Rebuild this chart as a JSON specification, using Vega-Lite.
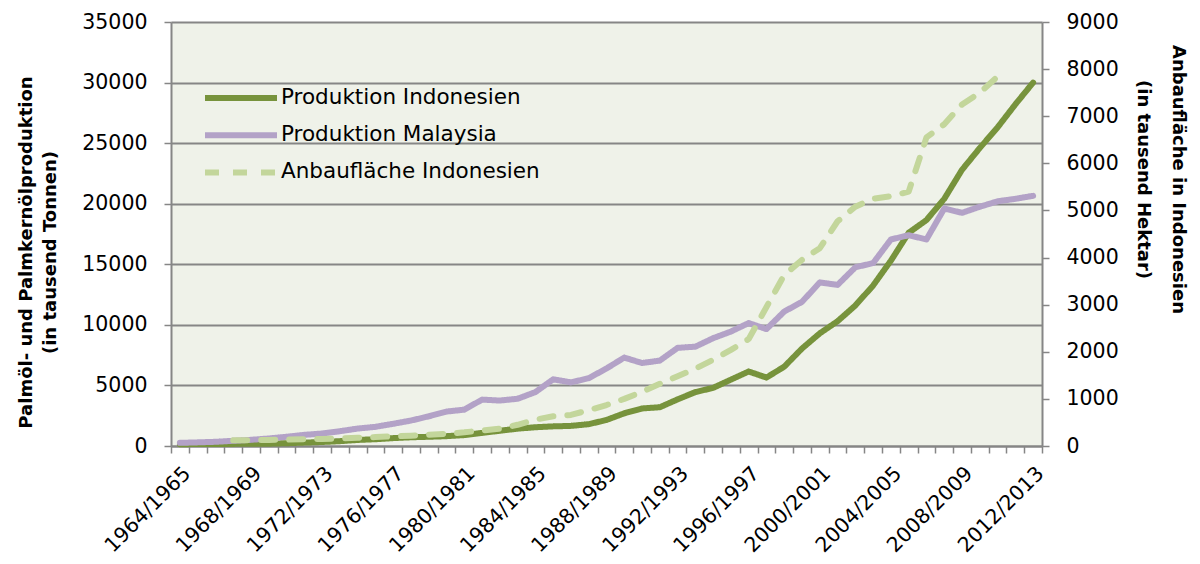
{
  "$schema": "https://vega.github.io/schema/vega-lite/v6.json",
  "width": 871,
  "height": 424,
  "autosize": {"type": "none"},
  "padding": {"left": 171, "top": 22, "right": 158, "bottom": 118},
  "background": "white",
  "config": {
    "font": "DejaVu Sans",
    "view": {"fill": "#EFF2E9", "stroke": null},
    "axis": {"labelColor": "#000000", "titleColor": "#000000", "labelFont": "DejaVu Sans", "titleFont": "DejaVu Sans"},
    "legend": {"labelColor": "#000000", "labelFont": "DejaVu Sans"}
  },
  "data": {"values": [
      {"Jahr": "1964/1965", "Reihe": "Produktion Indonesien", "Wert": 150},
      {"Jahr": "1965/1966", "Reihe": "Produktion Indonesien", "Wert": 160},
      {"Jahr": "1966/1967", "Reihe": "Produktion Indonesien", "Wert": 170},
      {"Jahr": "1967/1968", "Reihe": "Produktion Indonesien", "Wert": 175},
      {"Jahr": "1968/1969", "Reihe": "Produktion Indonesien", "Wert": 185},
      {"Jahr": "1969/1970", "Reihe": "Produktion Indonesien", "Wert": 190},
      {"Jahr": "1970/1971", "Reihe": "Produktion Indonesien", "Wert": 230},
      {"Jahr": "1971/1972", "Reihe": "Produktion Indonesien", "Wert": 280},
      {"Jahr": "1972/1973", "Reihe": "Produktion Indonesien", "Wert": 330},
      {"Jahr": "1973/1974", "Reihe": "Produktion Indonesien", "Wert": 400},
      {"Jahr": "1974/1975", "Reihe": "Produktion Indonesien", "Wert": 500},
      {"Jahr": "1975/1976", "Reihe": "Produktion Indonesien", "Wert": 560},
      {"Jahr": "1976/1977", "Reihe": "Produktion Indonesien", "Wert": 650},
      {"Jahr": "1977/1978", "Reihe": "Produktion Indonesien", "Wert": 720},
      {"Jahr": "1978/1979", "Reihe": "Produktion Indonesien", "Wert": 760},
      {"Jahr": "1979/1980", "Reihe": "Produktion Indonesien", "Wert": 810},
      {"Jahr": "1980/1981", "Reihe": "Produktion Indonesien", "Wert": 900},
      {"Jahr": "1981/1982", "Reihe": "Produktion Indonesien", "Wert": 1080},
      {"Jahr": "1982/1983", "Reihe": "Produktion Indonesien", "Wert": 1260},
      {"Jahr": "1983/1984", "Reihe": "Produktion Indonesien", "Wert": 1430},
      {"Jahr": "1984/1985", "Reihe": "Produktion Indonesien", "Wert": 1550},
      {"Jahr": "1985/1986", "Reihe": "Produktion Indonesien", "Wert": 1620},
      {"Jahr": "1986/1987", "Reihe": "Produktion Indonesien", "Wert": 1660},
      {"Jahr": "1987/1988", "Reihe": "Produktion Indonesien", "Wert": 1800},
      {"Jahr": "1988/1989", "Reihe": "Produktion Indonesien", "Wert": 2150},
      {"Jahr": "1989/1990", "Reihe": "Produktion Indonesien", "Wert": 2700},
      {"Jahr": "1990/1991", "Reihe": "Produktion Indonesien", "Wert": 3100},
      {"Jahr": "1991/1992", "Reihe": "Produktion Indonesien", "Wert": 3200},
      {"Jahr": "1992/1993", "Reihe": "Produktion Indonesien", "Wert": 3850},
      {"Jahr": "1993/1994", "Reihe": "Produktion Indonesien", "Wert": 4450},
      {"Jahr": "1994/1995", "Reihe": "Produktion Indonesien", "Wert": 4800},
      {"Jahr": "1995/1996", "Reihe": "Produktion Indonesien", "Wert": 5480},
      {"Jahr": "1996/1997", "Reihe": "Produktion Indonesien", "Wert": 6150},
      {"Jahr": "1997/1998", "Reihe": "Produktion Indonesien", "Wert": 5650},
      {"Jahr": "1998/1999", "Reihe": "Produktion Indonesien", "Wert": 6550},
      {"Jahr": "1999/2000", "Reihe": "Produktion Indonesien", "Wert": 8050},
      {"Jahr": "2000/2001", "Reihe": "Produktion Indonesien", "Wert": 9300},
      {"Jahr": "2001/2002", "Reihe": "Produktion Indonesien", "Wert": 10300},
      {"Jahr": "2002/2003", "Reihe": "Produktion Indonesien", "Wert": 11600},
      {"Jahr": "2003/2004", "Reihe": "Produktion Indonesien", "Wert": 13250},
      {"Jahr": "2004/2005", "Reihe": "Produktion Indonesien", "Wert": 15300},
      {"Jahr": "2005/2006", "Reihe": "Produktion Indonesien", "Wert": 17600},
      {"Jahr": "2006/2007", "Reihe": "Produktion Indonesien", "Wert": 18650},
      {"Jahr": "2007/2008", "Reihe": "Produktion Indonesien", "Wert": 20400},
      {"Jahr": "2008/2009", "Reihe": "Produktion Indonesien", "Wert": 22800},
      {"Jahr": "2009/2010", "Reihe": "Produktion Indonesien", "Wert": 24600},
      {"Jahr": "2010/2011", "Reihe": "Produktion Indonesien", "Wert": 26300},
      {"Jahr": "2011/2012", "Reihe": "Produktion Indonesien", "Wert": 28200},
      {"Jahr": "2012/2013", "Reihe": "Produktion Indonesien", "Wert": 30000},
      {"Jahr": "1964/1965", "Reihe": "Produktion Malaysia", "Wert": 260},
      {"Jahr": "1965/1966", "Reihe": "Produktion Malaysia", "Wert": 300},
      {"Jahr": "1966/1967", "Reihe": "Produktion Malaysia", "Wert": 345},
      {"Jahr": "1967/1968", "Reihe": "Produktion Malaysia", "Wert": 430},
      {"Jahr": "1968/1969", "Reihe": "Produktion Malaysia", "Wert": 510},
      {"Jahr": "1969/1970", "Reihe": "Produktion Malaysia", "Wert": 620},
      {"Jahr": "1970/1971", "Reihe": "Produktion Malaysia", "Wert": 760},
      {"Jahr": "1971/1972", "Reihe": "Produktion Malaysia", "Wert": 920},
      {"Jahr": "1972/1973", "Reihe": "Produktion Malaysia", "Wert": 1030},
      {"Jahr": "1973/1974", "Reihe": "Produktion Malaysia", "Wert": 1220},
      {"Jahr": "1974/1975", "Reihe": "Produktion Malaysia", "Wert": 1440},
      {"Jahr": "1975/1976", "Reihe": "Produktion Malaysia", "Wert": 1580},
      {"Jahr": "1976/1977", "Reihe": "Produktion Malaysia", "Wert": 1830},
      {"Jahr": "1977/1978", "Reihe": "Produktion Malaysia", "Wert": 2100},
      {"Jahr": "1978/1979", "Reihe": "Produktion Malaysia", "Wert": 2450},
      {"Jahr": "1979/1980", "Reihe": "Produktion Malaysia", "Wert": 2840},
      {"Jahr": "1980/1981", "Reihe": "Produktion Malaysia", "Wert": 3000},
      {"Jahr": "1981/1982", "Reihe": "Produktion Malaysia", "Wert": 3830},
      {"Jahr": "1982/1983", "Reihe": "Produktion Malaysia", "Wert": 3750},
      {"Jahr": "1983/1984", "Reihe": "Produktion Malaysia", "Wert": 3900},
      {"Jahr": "1984/1985", "Reihe": "Produktion Malaysia", "Wert": 4450},
      {"Jahr": "1985/1986", "Reihe": "Produktion Malaysia", "Wert": 5500},
      {"Jahr": "1986/1987", "Reihe": "Produktion Malaysia", "Wert": 5250},
      {"Jahr": "1987/1988", "Reihe": "Produktion Malaysia", "Wert": 5600},
      {"Jahr": "1988/1989", "Reihe": "Produktion Malaysia", "Wert": 6400},
      {"Jahr": "1989/1990", "Reihe": "Produktion Malaysia", "Wert": 7300},
      {"Jahr": "1990/1991", "Reihe": "Produktion Malaysia", "Wert": 6850},
      {"Jahr": "1991/1992", "Reihe": "Produktion Malaysia", "Wert": 7050},
      {"Jahr": "1992/1993", "Reihe": "Produktion Malaysia", "Wert": 8100},
      {"Jahr": "1993/1994", "Reihe": "Produktion Malaysia", "Wert": 8200},
      {"Jahr": "1994/1995", "Reihe": "Produktion Malaysia", "Wert": 8900},
      {"Jahr": "1995/1996", "Reihe": "Produktion Malaysia", "Wert": 9450},
      {"Jahr": "1996/1997", "Reihe": "Produktion Malaysia", "Wert": 10150},
      {"Jahr": "1997/1998", "Reihe": "Produktion Malaysia", "Wert": 9650},
      {"Jahr": "1998/1999", "Reihe": "Produktion Malaysia", "Wert": 11100},
      {"Jahr": "1999/2000", "Reihe": "Produktion Malaysia", "Wert": 11900},
      {"Jahr": "2000/2001", "Reihe": "Produktion Malaysia", "Wert": 13500},
      {"Jahr": "2001/2002", "Reihe": "Produktion Malaysia", "Wert": 13300},
      {"Jahr": "2002/2003", "Reihe": "Produktion Malaysia", "Wert": 14750},
      {"Jahr": "2003/2004", "Reihe": "Produktion Malaysia", "Wert": 15100},
      {"Jahr": "2004/2005", "Reihe": "Produktion Malaysia", "Wert": 17050},
      {"Jahr": "2005/2006", "Reihe": "Produktion Malaysia", "Wert": 17400},
      {"Jahr": "2006/2007", "Reihe": "Produktion Malaysia", "Wert": 17050},
      {"Jahr": "2007/2008", "Reihe": "Produktion Malaysia", "Wert": 19600},
      {"Jahr": "2008/2009", "Reihe": "Produktion Malaysia", "Wert": 19250},
      {"Jahr": "2009/2010", "Reihe": "Produktion Malaysia", "Wert": 19750},
      {"Jahr": "2010/2011", "Reihe": "Produktion Malaysia", "Wert": 20200},
      {"Jahr": "2011/2012", "Reihe": "Produktion Malaysia", "Wert": 20400},
      {"Jahr": "2012/2013", "Reihe": "Produktion Malaysia", "Wert": 20650},
      {"Jahr": "1967/1968", "Reihe": "Anbaufläche Indonesien", "Wert": 120},
      {"Jahr": "1968/1969", "Reihe": "Anbaufläche Indonesien", "Wert": 125},
      {"Jahr": "1969/1970", "Reihe": "Anbaufläche Indonesien", "Wert": 130},
      {"Jahr": "1970/1971", "Reihe": "Anbaufläche Indonesien", "Wert": 135},
      {"Jahr": "1971/1972", "Reihe": "Anbaufläche Indonesien", "Wert": 145},
      {"Jahr": "1972/1973", "Reihe": "Anbaufläche Indonesien", "Wert": 150},
      {"Jahr": "1973/1974", "Reihe": "Anbaufläche Indonesien", "Wert": 160},
      {"Jahr": "1974/1975", "Reihe": "Anbaufläche Indonesien", "Wert": 175},
      {"Jahr": "1975/1976", "Reihe": "Anbaufläche Indonesien", "Wert": 190},
      {"Jahr": "1976/1977", "Reihe": "Anbaufläche Indonesien", "Wert": 205},
      {"Jahr": "1977/1978", "Reihe": "Anbaufläche Indonesien", "Wert": 220},
      {"Jahr": "1978/1979", "Reihe": "Anbaufläche Indonesien", "Wert": 240},
      {"Jahr": "1979/1980", "Reihe": "Anbaufläche Indonesien", "Wert": 260},
      {"Jahr": "1980/1981", "Reihe": "Anbaufläche Indonesien", "Wert": 290},
      {"Jahr": "1981/1982", "Reihe": "Anbaufläche Indonesien", "Wert": 330},
      {"Jahr": "1982/1983", "Reihe": "Anbaufläche Indonesien", "Wert": 370},
      {"Jahr": "1983/1984", "Reihe": "Anbaufläche Indonesien", "Wert": 450},
      {"Jahr": "1984/1985", "Reihe": "Anbaufläche Indonesien", "Wert": 560},
      {"Jahr": "1985/1986", "Reihe": "Anbaufläche Indonesien", "Wert": 630},
      {"Jahr": "1986/1987", "Reihe": "Anbaufläche Indonesien", "Wert": 660},
      {"Jahr": "1987/1988", "Reihe": "Anbaufläche Indonesien", "Wert": 760},
      {"Jahr": "1988/1989", "Reihe": "Anbaufläche Indonesien", "Wert": 870},
      {"Jahr": "1989/1990", "Reihe": "Anbaufläche Indonesien", "Wert": 1000},
      {"Jahr": "1990/1991", "Reihe": "Anbaufläche Indonesien", "Wert": 1150},
      {"Jahr": "1991/1992", "Reihe": "Anbaufläche Indonesien", "Wert": 1320},
      {"Jahr": "1992/1993", "Reihe": "Anbaufläche Indonesien", "Wert": 1480},
      {"Jahr": "1993/1994", "Reihe": "Anbaufläche Indonesien", "Wert": 1640},
      {"Jahr": "1994/1995", "Reihe": "Anbaufläche Indonesien", "Wert": 1830},
      {"Jahr": "1995/1996", "Reihe": "Anbaufläche Indonesien", "Wert": 2040},
      {"Jahr": "1996/1997", "Reihe": "Anbaufläche Indonesien", "Wert": 2270},
      {"Jahr": "1997/1998", "Reihe": "Anbaufläche Indonesien", "Wert": 2950},
      {"Jahr": "1998/1999", "Reihe": "Anbaufläche Indonesien", "Wert": 3630},
      {"Jahr": "1999/2000", "Reihe": "Anbaufläche Indonesien", "Wert": 3950},
      {"Jahr": "2000/2001", "Reihe": "Anbaufläche Indonesien", "Wert": 4200},
      {"Jahr": "2001/2002", "Reihe": "Anbaufläche Indonesien", "Wert": 4770},
      {"Jahr": "2002/2003", "Reihe": "Anbaufläche Indonesien", "Wert": 5080},
      {"Jahr": "2003/2004", "Reihe": "Anbaufläche Indonesien", "Wert": 5250},
      {"Jahr": "2004/2005", "Reihe": "Anbaufläche Indonesien", "Wert": 5300},
      {"Jahr": "2005/2006", "Reihe": "Anbaufläche Indonesien", "Wert": 5400},
      {"Jahr": "2006/2007", "Reihe": "Anbaufläche Indonesien", "Wert": 6550},
      {"Jahr": "2007/2008", "Reihe": "Anbaufläche Indonesien", "Wert": 6830},
      {"Jahr": "2008/2009", "Reihe": "Anbaufläche Indonesien", "Wert": 7250},
      {"Jahr": "2009/2010", "Reihe": "Anbaufläche Indonesien", "Wert": 7500},
      {"Jahr": "2010/2011", "Reihe": "Anbaufläche Indonesien", "Wert": 7840}
  ]},
  "encoding": {
    "x": {
      "field": "Jahr",
      "type": "ordinal",
      "scale": {"type": "band", "paddingInner": 0, "paddingOuter": 0},
      "axis": {
        "title": null,
        "labelAngle": -45,
        "labelExpr": "indexof(['1964/1965','1968/1969','1972/1973','1976/1977','1980/1981','1984/1985','1988/1989','1992/1993','1996/1997','2000/2001','2004/2005','2008/2009','2012/2013'], datum.label) >= 0 ? datum.label : ''",
        "labelOverlap": false,
        "labelFontSize": 20.5,
        "labelPadding": 10,
        "tickBand": "extent",
        "tickSize": 7,
        "tickColor": "#868686",
        "tickWidth": 1.5,
        "domainColor": "#868686",
        "domainWidth": 2,
        "grid": false
      }
    },
    "color": {
      "field": "Reihe",
      "type": "nominal",
      "scale": {"domain": ["Produktion Indonesien", "Produktion Malaysia", "Anbaufläche Indonesien"], "range": ["#77933C", "#B3A2C7", "#C3D69B"]},
      "legend": {"title": null, "orient": "none", "legendX": 31, "legendY": 64, "symbolType": "stroke", "symbolSize": 5184, "symbolStrokeWidth": 6, "clipHeight": 24, "rowPadding": 13.2, "labelOffset": 1, "labelFontSize": 21.5, "labelLimit": 400}
    },
    "strokeDash": {
      "field": "Reihe",
      "type": "nominal",
      "scale": {"domain": ["Produktion Indonesien", "Produktion Malaysia", "Anbaufläche Indonesien"], "range": [[1, 0], [1, 0], [14, 14]]},
      "legend": {"title": null, "orient": "none", "legendX": 31, "legendY": 64, "symbolType": "stroke", "symbolSize": 5184, "symbolStrokeWidth": 6, "clipHeight": 24, "rowPadding": 13.2, "labelOffset": 1, "labelFontSize": 21.5, "labelLimit": 400}
    }
  },
  "layer": [
    {
      "transform": [{"filter": "datum.Reihe != 'Anbaufläche Indonesien'"}],
      "mark": {"type": "line", "strokeWidth": 6, "strokeCap": "round", "strokeJoin": "round"},
      "encoding": {
        "y": {
          "field": "Wert",
          "type": "quantitative",
          "scale": {"domain": [0, 35000], "nice": false},
          "axis": {
            "orient": "left",
            "values": [0, 5000, 10000, 15000, 20000, 25000, 30000, 35000],
            "format": "d",
            "grid": true,
            "gridColor": "#868686",
            "gridWidth": 2,
            "domainColor": "#868686",
            "domainWidth": 2,
            "tickColor": "#868686",
            "tickWidth": 1.5,
            "tickSize": 7,
            "labelFontSize": 20.5,
            "labelPadding": 17,
            "title": ["Palmöl- und Palmkernölproduktion", "(in tausend Tonnen)"],
            "titleFontSize": 18,
            "titleFontWeight": "bold",
            "titleLineHeight": 24,
            "titlePadding": 22,
            "titleY": 230
          }
        }
      }
    },
    {
      "transform": [{"filter": "datum.Reihe == 'Anbaufläche Indonesien'"}],
      "mark": {"type": "line", "strokeWidth": 6, "strokeCap": "round", "strokeJoin": "round"},
      "encoding": {
        "y": {
          "field": "Wert",
          "type": "quantitative",
          "scale": {"domain": [0, 9000], "nice": false},
          "axis": {
            "orient": "right",
            "values": [0, 1000, 2000, 3000, 4000, 5000, 6000, 7000, 8000, 9000],
            "format": "d",
            "grid": false,
            "domainColor": "#868686",
            "domainWidth": 2,
            "tickColor": "#868686",
            "tickWidth": 1.5,
            "tickSize": 7,
            "labelFontSize": 20.5,
            "labelPadding": 17,
            "title": ["Anbaufläche in Indonesien", "(in tausend Hektar)"],
            "titleFontSize": 18,
            "titleFontWeight": "bold",
            "titleLineHeight": 35,
            "titlePadding": 15,
            "titleY": 157
          }
        }
      }
    }
  ],
  "resolve": {"scale": {"y": "independent"}}
}
